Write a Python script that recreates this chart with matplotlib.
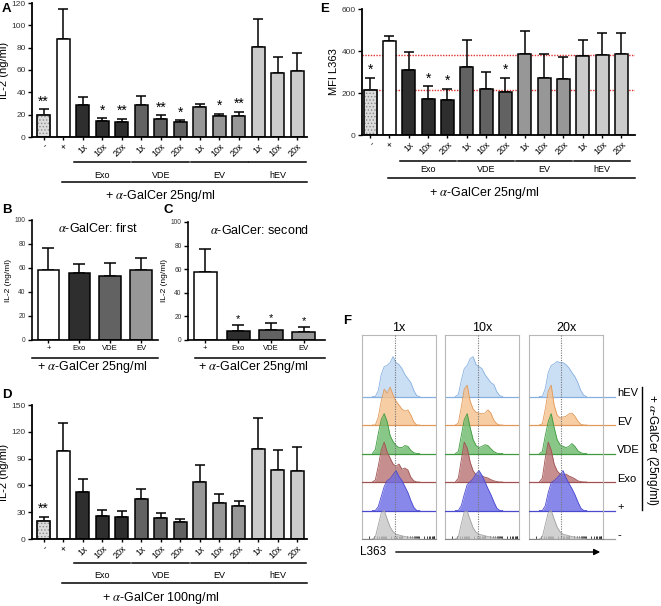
import matplotlib
matplotlib.use('Agg')
import matplotlib.pyplot as plt
import numpy as np

plt.rcParams['font.family'] = ['Liberation Sans', 'DejaVu Sans']
plt.rcParams['mathtext.fontset'] = 'stix'
plt.rcParams['hatch.color'] = '#8a8a8a'
plt.rcParams['hatch.linewidth'] = 0.6

W, H = 661, 606
GALCER = '+ $\\alpha$-GalCer 25ng/ml'

# ---------- A / D / E: 14 conditions ----------
CONDS = ['-', '+', '1x', '10x', '20x', '1x', '10x', '20x', '1x', '10x', '20x', '1x', '10x', '20x']
GROUPS = ['Exo', 'VDE', 'EV', 'hEV']
FILLS = ['#dcdcdc', 'white'] + ['#2e2e2e'] * 3 + ['#626262'] * 3 + ['#979797'] * 3 + ['#cbcbcb'] * 3

A_MEAN = [20, 88, 29, 14, 13, 28.5, 16, 13.5, 27, 18.5, 19, 81, 57, 59]
A_TOP = [25, 115, 35.5, 17, 16.5, 36.5, 19.5, 15, 30, 21, 22.5, 106, 72, 75]
A_STARS = ['**', '', '', '*', '**', '', '**', '*', '', '*', '**', '', '', '']

E_MEAN = [212, 448, 310, 170, 165, 322, 218, 203, 387, 273, 268, 375, 383, 388]
E_TOP = [273, 470, 395, 232, 220, 452, 300, 272, 493, 387, 373, 450, 488, 485]
E_STARS = ['*', '', '', '*', '*', '', '', '*', '', '', '', '', '', '']
E_REF = [380, 212]

D_MEAN = [20, 98, 53, 25.5, 24.5, 45, 23.5, 18.5, 64, 40.5, 36.5, 101, 77, 76.5]
D_TOP = [25, 130, 67, 32, 31.5, 56.5, 29.5, 22.5, 82.5, 50, 43, 136, 100, 103]
D_STARS = ['**', '', '', '', '', '', '', '', '', '', '', '', '', '']

# ---------- B / C: 4 conditions ----------
BC_CONDS = ['+', 'Exo', 'VDE', 'EV']
BC_FILLS = ['white', '#2e2e2e', '#626262', '#979797']
B_MEAN = [58, 55.5, 53, 58.5]
B_TOP = [77, 63, 64.5, 68.5]
C_MEAN = [58, 7.5, 8.5, 7]
C_TOP = [77, 12.5, 14, 11]
C_STARS = ['', '*', '*', '*']

# ---------- F: flow histograms (mode-normalised, read at HIST_X) ----------
HIST_X = 0.14 + 0.04 * np.arange(17)
F_COLS = ['1x', '10x', '20x']
F_ROWS = ['-', '+', 'Exo', 'VDE', 'EV', 'hEV']
F_FILL = ['#c6c6c6', '#6a6ae6', '#b87272', '#6cba6c', '#f6c18c', '#bdd6f2']
F_EDGE = ['#a0a0a0', '#4a4ad0', '#a05252', '#3f9a3f', '#e0995a', '#86b0e0']
F_REF_X = [0.45, 0.45, 0.43]
H_NEG = [[0, 0.05, 0.35, 0.65, 0.72, 0.5, 0.3, 0.18, 0.12, 0.1, 0.08, 0.06, 0.05, 0.04, 0.03, 0.02, 0],
         [0, 0.05, 0.38, 0.68, 0.7, 0.48, 0.28, 0.17, 0.12, 0.1, 0.08, 0.06, 0.05, 0.04, 0.03, 0.02, 0],
         [0, 0.05, 0.36, 0.66, 0.72, 0.5, 0.3, 0.18, 0.12, 0.1, 0.08, 0.06, 0.05, 0.04, 0.03, 0.02, 0]]
H_POS = [[0, 0, 0.1, 0.35, 0.6, 0.75, 0.8, 0.9, 1.0, 0.85, 0.75, 0.6, 0.45, 0.25, 0.08, 0, 0],
         [0, 0, 0.12, 0.4, 0.65, 0.72, 0.8, 0.92, 1.0, 0.88, 0.72, 0.55, 0.4, 0.22, 0.06, 0, 0],
         [0, 0, 0.12, 0.45, 0.7, 0.75, 0.82, 0.9, 1.0, 0.82, 0.68, 0.55, 0.4, 0.22, 0.06, 0, 0]]
H_EXO = [[0, 0.05, 0.4, 0.8, 1.0, 0.75, 0.6, 0.45, 0.4, 0.45, 0.32, 0.35, 0.3, 0.12, 0.03, 0, 0],
         [0, 0.1, 0.55, 1.0, 0.85, 0.5, 0.28, 0.18, 0.15, 0.15, 0.12, 0.1, 0.06, 0.03, 0.01, 0, 0],
         [0, 0.1, 0.6, 1.0, 0.8, 0.45, 0.28, 0.2, 0.18, 0.2, 0.15, 0.12, 0.08, 0.03, 0.01, 0, 0]]
H_VDE = [[0, 0.1, 0.5, 0.85, 1.0, 0.8, 0.45, 0.3, 0.2, 0.15, 0.15, 0.2, 0.18, 0.08, 0.02, 0, 0],
         [0, 0.05, 0.45, 0.85, 1.0, 0.65, 0.35, 0.2, 0.15, 0.18, 0.22, 0.2, 0.12, 0.05, 0.01, 0, 0],
         [0, 0.05, 0.45, 0.8, 1.0, 0.65, 0.35, 0.22, 0.18, 0.15, 0.18, 0.25, 0.18, 0.07, 0.02, 0, 0]]
H_EV = [[0, 0, 0.2, 0.6, 0.9, 0.8, 0.95, 0.75, 0.6, 0.5, 0.4, 0.35, 0.38, 0.25, 0.08, 0, 0],
        [0, 0.05, 0.45, 0.9, 1.0, 0.6, 0.4, 0.32, 0.3, 0.28, 0.3, 0.38, 0.3, 0.12, 0.03, 0, 0],
        [0, 0.03, 0.4, 0.85, 1.0, 0.5, 0.25, 0.18, 0.2, 0.22, 0.28, 0.3, 0.22, 0.1, 0.02, 0, 0]]
H_HEV = [[0, 0, 0.15, 0.55, 0.75, 0.78, 0.85, 1.0, 0.85, 0.8, 0.7, 0.55, 0.45, 0.35, 0.15, 0.02, 0],
         [0, 0.05, 0.4, 0.7, 0.78, 0.95, 1.0, 0.8, 0.75, 0.7, 0.55, 0.45, 0.35, 0.3, 0.12, 0.02, 0],
         [0, 0, 0.2, 0.6, 0.78, 0.82, 0.88, 0.85, 0.85, 0.8, 0.72, 0.6, 0.5, 0.35, 0.15, 0.03, 0]]
F_DATA = [H_NEG, H_POS, H_EXO, H_VDE, H_EV, H_HEV]


fig = plt.figure(figsize=(W / 100, H / 100), dpi=100)


def add_ax(l, t, r, b):
    return fig.add_axes([l / W, 1 - b / H, (r - l) / W, (b - t) / H])


def style(ax, lw=1.3):
    for s in ['top', 'right']:
        ax.spines[s].set_visible(False)
    for s in ['left', 'bottom']:
        ax.spines[s].set_linewidth(lw)
    ax.tick_params(axis='y', length=3, width=1, labelsize=6, labelcolor='#333333', pad=1.5)
    ax.tick_params(axis='x', length=2, width=1, pad=1.5)


def bars(ax, means, tops, fills, width, stars=None, star_size=10, hatch_first=False, capsize=3.5):
    x = np.arange(len(means))
    means = np.array(means, dtype=float)
    errs = np.array(tops, dtype=float) - means
    ax.errorbar(x, means, yerr=[np.zeros_like(errs), errs], fmt='none', ecolor='k',
                elinewidth=1.1, capsize=capsize, capthick=1.1, zorder=1)
    b = ax.bar(x, means, width=width, color=fills, edgecolor='k', linewidth=1.1, zorder=2)
    if hatch_first:
        b[0].set_hatch('.....')
        b[0].set_edgecolor('#8a8a8a')
        ax.bar(x[0], means[0], width=width, fill=False, edgecolor='k', linewidth=1.1, zorder=3)
    if stars:
        for xi, t, s in zip(x, tops, stars):
            if s:
                ax.annotate(s, (xi, t), xytext=(0, 0.5), textcoords='offset points',
                            ha='center', va='bottom', fontsize=star_size)
    return x


def group_annot(ax, xmax, line_y, label_y, big_y, text_y, text_x, text):
    tr = ax.get_xaxis_transform()
    for g, name in enumerate(GROUPS):
        i0 = 2 + 3 * g
        ax.plot([i0 - 0.45, i0 + 2.45], [line_y] * 2, color='k', lw=1.1, transform=tr, clip_on=False)
        ax.text(i0 + 1, label_y, name, ha='center', va='center', fontsize=6.5, transform=tr)
    ax.plot([0.95, xmax], [big_y] * 2, color='k', lw=1.1, transform=tr, clip_on=False)
    ax.text(text_x, text_y, text, ha='center', va='center', fontsize=9, transform=tr)


def big_panel(ax, means, tops, stars, ylim, yticks, ylabel, xlim):
    style(ax)
    bars(ax, means, tops, FILLS, 0.67, stars=stars, hatch_first=True)
    ax.set_xlim(*xlim)
    ax.set_ylim(*ylim)
    ax.set_yticks(yticks)
    ax.set_xticks(np.arange(len(CONDS)))
    ax.set_xticklabels(CONDS, rotation=45, ha='right', rotation_mode='anchor', fontsize=6.5)
    ax.set_ylabel(ylabel, fontsize=8, labelpad=2)


# ---- A ----
axA = add_ax(32, 3, 307, 137)
big_panel(axA, A_MEAN, A_TOP, A_STARS, (0, 120), np.arange(0, 121, 20), 'IL-2 (ng/ml)', (-0.6, 13.5))
group_annot(axA, 13.5, -0.19, -0.285, -0.335, -0.44, 6.0, GALCER)

# ---- E ----
axE = add_ax(362, 9, 635, 135)
big_panel(axE, E_MEAN, E_TOP, E_STARS, (0, 600), np.arange(0, 601, 200), 'MFI L363', (-0.42, 13.7))
for r in E_REF:
    axE.axhline(r, color='#e03030', ls=(0, (1, 1)), lw=1, zorder=0.5)
group_annot(axE, 13.7, -0.21, -0.27, -0.34, -0.46, 5.9, GALCER)

# ---- D ----
axD = add_ax(32, 405, 307, 539)
big_panel(axD, D_MEAN, D_TOP, D_STARS, (0, 150), np.arange(0, 151, 30), 'IL-2 (ng/ml)', (-0.6, 13.5))
group_annot(axD, 13.5, -0.18, -0.275, -0.33, -0.44, 6.0, '+ $\\alpha$-GalCer 100ng/ml')


# ---- B / C ----
def small_panel(ax, means, tops, stars, title, xlim):
    style(ax, lw=1.2)
    bars(ax, means, tops, BC_FILLS, 0.7, stars=stars, star_size=8, capsize=4)
    ax.set_xlim(*xlim)
    ax.set_ylim(0, 100)
    ax.set_yticks(np.arange(0, 101, 20))
    ax.tick_params(axis='y', labelsize=4.8)
    ax.set_xticks(np.arange(4))
    ax.set_xticklabels(BC_CONDS, fontsize=5.5)
    ax.set_ylabel('IL-2 (ng/ml)', fontsize=6, labelpad=2)
    ax.text(0.52, 0.93, title.replace('a-', '$\\alpha$-'), transform=ax.transAxes,
            ha='center', va='center', fontsize=9)
    ax.plot([0, 1], [-0.15, -0.15], color='k', lw=1.1, transform=ax.transAxes, clip_on=False)
    ax.text(0.48, -0.225, GALCER, transform=ax.transAxes, ha='center', va='center', fontsize=9)


axB = add_ax(32, 220, 158, 340)
small_panel(axB, B_MEAN, B_TOP, None, 'a-GalCer: first', (-0.53, 3.54))
axC = add_ax(188, 222, 325, 340)
small_panel(axC, C_MEAN, C_TOP, C_STARS, 'a-GalCer: second', (-0.52, 3.64))
axC.lines[-1].set_xdata([0.05, 1])

# ---- F ----
PEAK = 1.4
box_x = [(362, 436), (445, 519), (529, 603)]
minor = np.concatenate([np.log10(np.arange(1, 10)) + d for d in range(4)]) / 4.5 + 0.1
for c, (l, r) in enumerate(box_x):
    ax = add_ax(l, 335, r, 539)
    for s in ['top', 'left', 'right']:
        ax.spines[s].set_color('#b8b8b8')
        ax.spines[s].set_linewidth(0.8)
    ax.spines['bottom'].set_color('#888888')
    ax.spines['bottom'].set_linewidth(0.8)
    ax.set_xlim(0, 1)
    ax.set_ylim(0, 7.16)
    ax.set_yticks([])
    ax.set_xticks(minor[minor < 1])
    ax.set_xticklabels([])
    ax.tick_params(axis='x', length=2, width=0.6, color='#222222', direction='in')
    for i in range(len(F_ROWS) - 1, -1, -1):
        vals = np.array(F_DATA[i][c]) * PEAK + i
        ax.fill_between(HIST_X, i, vals, color=F_FILL[i], alpha=0.8, lw=0, zorder=2 + (5 - i))
        ax.plot(HIST_X, vals, color=F_EDGE[i], lw=0.6, zorder=2 + (5 - i))
        ax.axhline(i, color=F_EDGE[i], lw=0.9, zorder=2 + (5 - i))
    ax.axvline(F_REF_X[c], color='#777777', ls=(0, (1, 1.2)), lw=0.8, zorder=20)
    ax.set_title(F_COLS[c], fontsize=9, pad=3)
    if c == 2:
        tr = ax.get_yaxis_transform()
        for i, name in enumerate(F_ROWS):
            ax.plot([1, 1 + 12 / 74], [i, i], color=F_EDGE[i], lw=0.9, transform=tr, clip_on=False)
            ax.text(1 + 14 / 74, i + 0.12, name, transform=tr, ha='left', va='center', fontsize=8)

# bracket and rotated label
fig.add_artist(plt.Line2D([642 / W] * 2, [1 - 387 / H, 1 - 510 / H], color='k', lw=1))
fig.text(652 / W, 1 - 450 / H, '+ $\\alpha$-GalCer (25ng/ml)', rotation=-90,
         ha='center', va='center', fontsize=8.5)
fig.text(360 / W, 1 - 552 / H, 'L363', ha='left', va='center', fontsize=8.5)
fig.add_artist(matplotlib.patches.FancyArrowPatch((393 / W, 1 - 552 / H), (603 / W, 1 - 552 / H),
                                                  transform=fig.transFigure, arrowstyle='-|>',
                                                  mutation_scale=9, color='k', lw=1))

# panel letters
for letter, x, y in [('A', 2, 3), ('E', 320, 3), ('B', 2, 204), ('C', 163, 204),
                     ('D', 2, 389), ('F', 343, 315)]:
    fig.text(x / W, 1 - y / H, letter, fontsize=9.5, fontweight='bold', ha='left', va='top')

fig.savefig('out.png', dpi=100)
